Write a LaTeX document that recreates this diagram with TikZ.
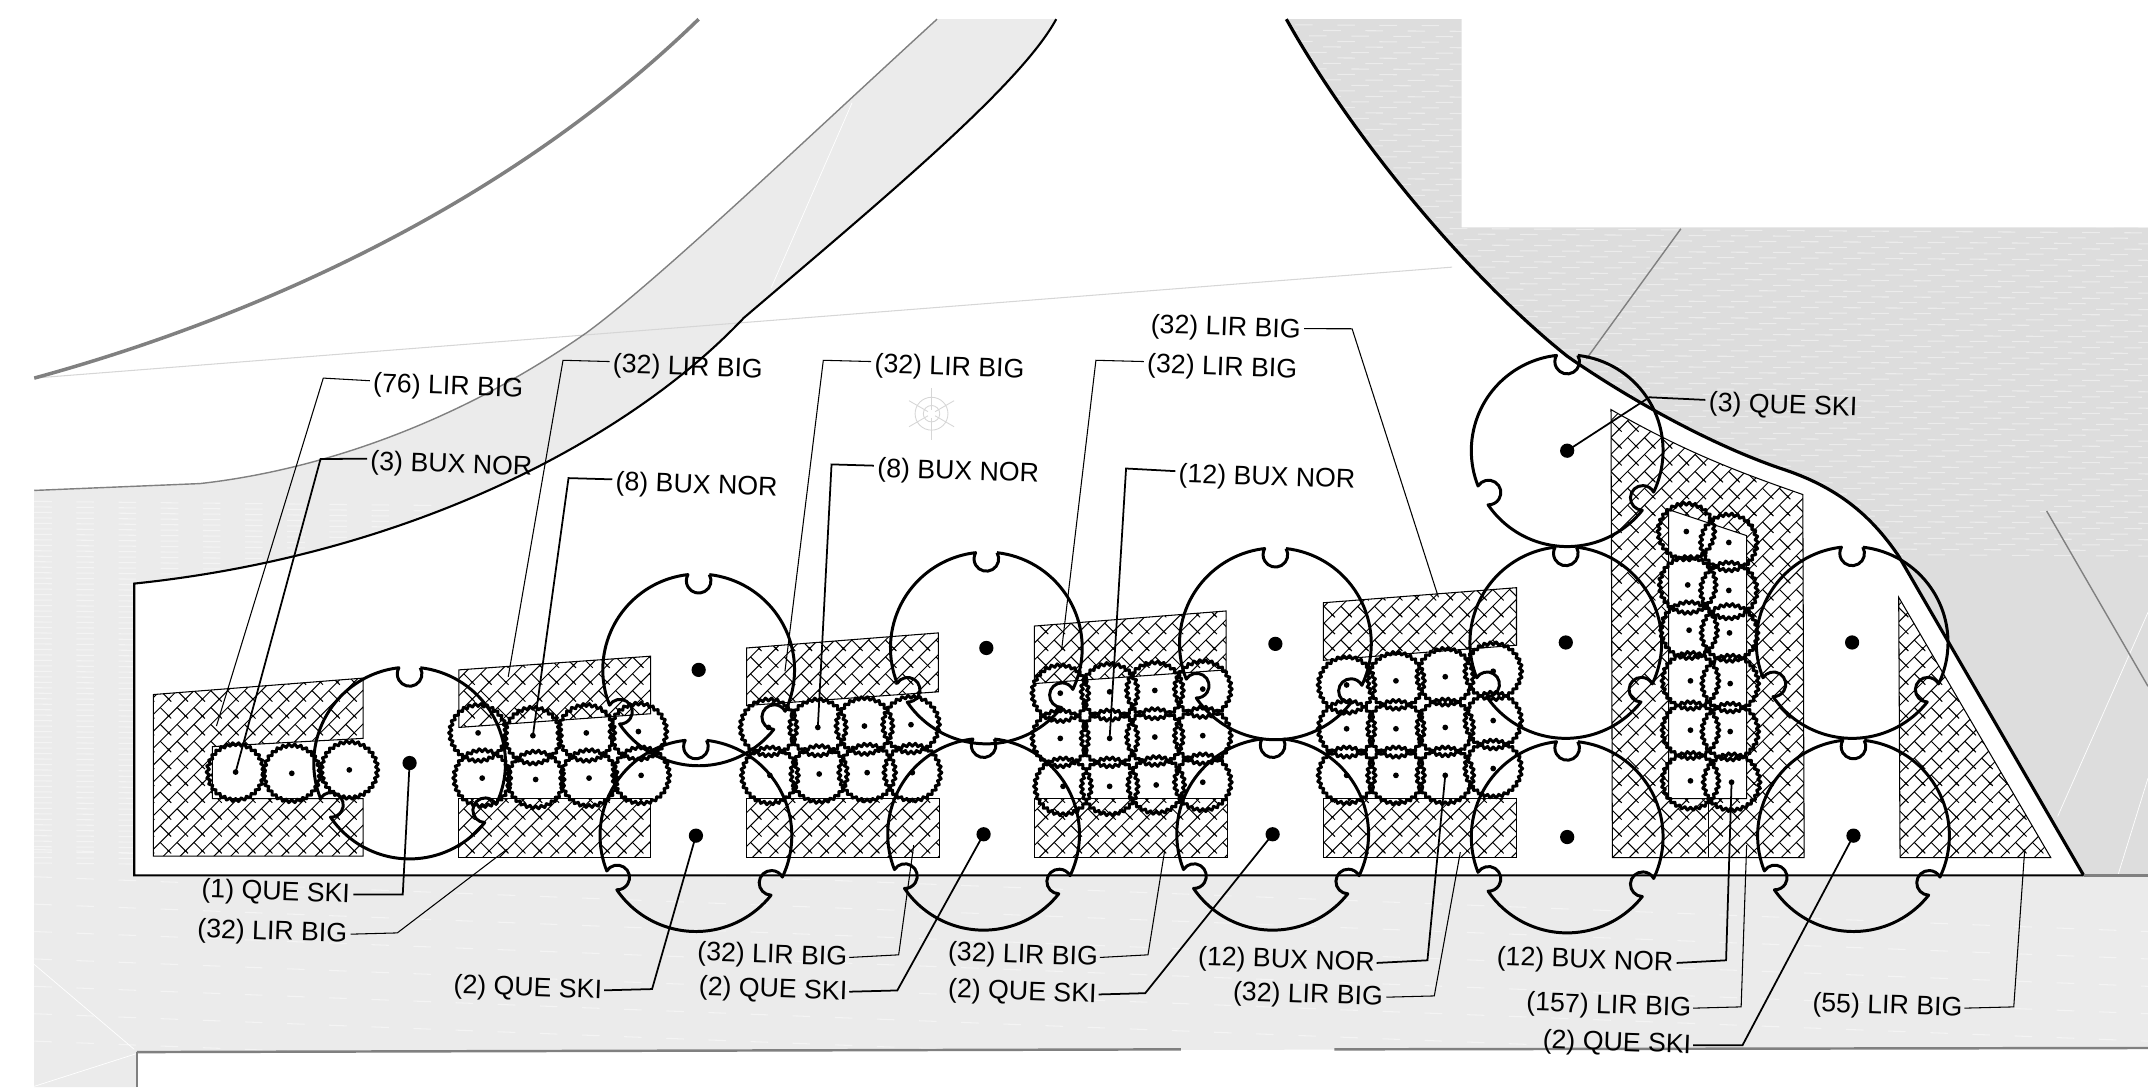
\documentclass[tikz,border=0pt]{standalone}
\usepackage{fontspec}
\setmainfont{Liberation Sans}
\usetikzlibrary{patterns,calc}
\definecolor{pavelight}{RGB}{235,235,235}
\definecolor{pavedark}{RGB}{221,221,221}
\definecolor{edgegray}{RGB}{128,128,128}
\definecolor{faintgray}{RGB}{214,214,214}
\pgfdeclarepatternformonly{plantbed}{\pgfqpoint{-0.2pt}{-0.2pt}}{\pgfqpoint{9.8pt}{9.8pt}}{\pgfqpoint{9.6pt}{9.6pt}}{
  \pgfsetlinewidth{0.28pt}
  \pgfpathmoveto{\pgfqpoint{-0.2pt}{-0.2pt}}\pgfpathlineto{\pgfqpoint{9.8pt}{9.8pt}}
  \pgfpathmoveto{\pgfqpoint{-0.2pt}{4.6pt}}\pgfpathlineto{\pgfqpoint{5pt}{9.8pt}}
  \pgfpathmoveto{\pgfqpoint{4.6pt}{-0.2pt}}\pgfpathlineto{\pgfqpoint{9.8pt}{5pt}}
  \pgfusepath{stroke}
  % staggered cross strokes, each with a short overhang
  \foreach \dx in {-9.6,0,9.6,19.2} {
    \foreach \dy in {-9.6,0,9.6} {
      \pgfpathmoveto{\pgfpoint{\dx pt+0.72pt}{\dy pt-0.72pt}}\pgfpathlineto{\pgfpoint{\dx pt-2.4pt}{\dy pt+2.4pt}}
      \pgfpathmoveto{\pgfpoint{\dx pt+0.72pt}{\dy pt+4.08pt}}\pgfpathlineto{\pgfpoint{\dx pt-2.4pt}{\dy pt+7.2pt}}
      \pgfpathmoveto{\pgfpoint{\dx pt-4.08pt}{\dy pt+4.08pt}}\pgfpathlineto{\pgfpoint{\dx pt-7.2pt}{\dy pt+7.2pt}}
      \pgfpathmoveto{\pgfpoint{\dx pt-4.08pt}{\dy pt+8.88pt}}\pgfpathlineto{\pgfpoint{\dx pt-7.2pt}{\dy pt+12pt}}
      \pgfusepath{stroke}
    }
  }
}
\tikzset{
  bedline/.style={line width=0.3pt, draw=black, pattern=plantbed},
  treeline/.style={line width=0.85pt, line join=round},
  shrubline/.style={line width=0.85pt, line join=round},
  leader/.style={line width=0.5pt},
  leader-thin/.style={line width=0.3pt},
  streak/.style={draw=white, line width=0.3pt, opacity=0.45, dash pattern=on 5pt off 7pt},
  whiteline/.style={draw=white, line width=0.2pt},
  plantlabel/.style={font=\fontsize{7.6}{9}\selectfont, inner sep=0pt, rotate=-2, yshift=-0.75pt}
}
% tree with three notches, drawn in a y-up local frame
\newcommand{\treeplant}[3]{
  \coordinate (#1) at (#2,#3);
  \begin{scope}[shift={(#1)},y=0.0137cm]
    \draw[treeline] (83.6:70) arc[start angle=30, delta angle=-240, radius=9]
      arc[start angle=96.4, end angle=201.6, radius=70]
      arc[start angle=148, delta angle=-240, radius=9]
      arc[start angle=214.4, end angle=321.6, radius=70]
      arc[start angle=268, delta angle=-240, radius=9]
      arc[start angle=334.4, end angle=443.6, radius=70];
    \fill (0,0) circle (5.2);
  \end{scope}
}
\newcommand{\shrubplant}[3]{
  \coordinate (#1) at (#2,#3);
  \begin{scope}[shift={(#1)}]
    \draw[shrubline] plot[domain=0:360, samples=121, variable=\t]
      ({(20.4+1.1*cos(30*\t))*cos(\t)},{(20.4+1.1*cos(30*\t))*sin(\t)}) -- cycle;
    \fill (0,0) circle (2.1);
  \end{scope}
}
\def\bandupper{(146,353) .. controls (235,343) and (335,308) .. (428,243) .. controls (480,205) and (590,100) .. (684,14)}
\def\bandlower{(771,14) .. controls (745,62) and (645,145) .. (543,232) .. controls (460,320) and (300,405) .. (98,426)}
\def\rightedge{(939,14) .. controls (990,105) and (1075,205) .. (1144,260) .. controls (1190,292) and (1250,325) .. (1300,342) .. controls (1340,355) and (1365,375) .. (1386,406) -- (1521,639)}
\def\lightband{(25,358) -- \bandupper -- \bandlower -- (98,639) -- (1568,639) -- (1568,765) -- (100,768) -- (100,793.5) -- (25,793.5) -- cycle}
\def\darkzone{\rightedge -- (1568,639) -- (1568,166) -- (1067,166) -- (1067,14) -- cycle}

\begin{document}
\begin{tikzpicture}[x=0.0137cm,y=-0.0137cm]
  \useasboundingbox (0,0) rectangle (1568,793.5);

  % --- Paving ---
  \fill[pavelight] \lightband;
  \fill[pavedark] \darkzone;
  \begin{scope}
    \clip \lightband;
    \foreach \yy in {366,370,...,630} {
      \draw[streak] (25,\yy) -- (420,\yy+4);
    }
    \foreach \yy in {620,640,...,770} {
      \draw[streak] (25,\yy) -- (1568,\yy+60);
    }
  \end{scope}
  \begin{scope}
    \clip \darkzone;
    \foreach \yy in {18,22,...,404} {
      \draw[streak, dash phase=\yy pt] (930,\yy) -- (1568,\yy+4);
    }
  \end{scope}
  \draw[whiteline] (1568,447) -- (1502,596);
  \draw[whiteline] (1568,568) -- (1546,639);
  \draw[whiteline] (622,75) -- (563,210);
  \draw[whiteline] (25,704) -- (98,766);
  \draw[whiteline] (25,793) -- (100,769);

  % --- Site edges ---
  \draw[faintgray, line width=0.3pt] (25,276) -- (1060,195);
  \draw[edgegray, line width=1pt] (25,276) .. controls (175,235) and (365,155) .. (510,14);
  \draw[edgegray, line width=0.4pt] (25,358) -- \bandupper;
  \draw[line width=0.6pt] \bandlower -- (98,639) -- (1521,639);
  \draw[line width=0.9pt] \rightedge;
  \draw[edgegray, line width=0.8pt] (1521,639) -- (1568,639);
  \draw[edgegray, line width=0.7pt] (100,768) -- (862,766);
  \draw[edgegray, line width=0.7pt] (974,766) -- (1568,765);
  \draw[edgegray, line width=0.3pt] (100,768) -- (100,793.5);
  \draw[edgegray, line width=0.4pt] (1227,167) -- (1158,262);
  \draw[edgegray, line width=0.4pt] (1494,373) -- (1568,501);

  % faint symbol
  \begin{scope}[shift={(680,302)}, faintgray, line width=0.25pt]
    \draw (0,0) circle (6);
    \draw (0,0) circle (12);
    \foreach \a in {90,150,210,270,330,30} {
      \draw (\a:3) -- (\a:19);
    }
  \end{scope}

  % --- Planting beds ---
  \draw[bedline] (112,507) -- (265,495) -- (265,539) -- (155,545) -- (155,583) -- (265,583) -- (265,625) -- (112,625) -- cycle;
  \draw[bedline] (335,489) -- (475,479) -- (475,521) -- (335,531) -- cycle;
  \draw[bedline] (335,583) rectangle (475,626);
  \draw[bedline] (545,473) -- (685,462) -- (685,505) -- (545,515) -- cycle;
  \draw[bedline] (545,583) rectangle (686,626);
  \draw[bedline] (755,457) -- (895,446) -- (895,489) -- (755,499) -- cycle;
  \draw[bedline] (755,583) rectangle (896,626);
  \draw[bedline] (966,440) -- (1107,429) -- (1107,471) -- (966,482) -- cycle;
  \draw[bedline] (966,583) rectangle (1107,626);
  \draw[bedline, even odd rule] (1176,299) .. controls (1230,330) and (1270,345) .. (1316,361) -- (1317,626) -- (1177,626) -- cycle
    (1218,372) -- (1275,391) -- (1275,583) -- (1218,583) -- cycle;
  \draw[line width=0.3pt] (1247,583) -- (1247,626);
  \draw[bedline] (1386,436) -- (1497,626) -- (1387,626) -- cycle;

  % --- Trees ---
  \foreach \nm/\cx/\cy in {treeA/299/557,treeB/510/489,treeC/508/610,treeD/720/473,treeE/718/609,treeF/931/470,
      treeG/929/609,treeH/1144/329,treeI/1143/469,treeJ/1144/611,treeK/1352/469,treeL/1353/610} {
    \treeplant{\nm}{\cx}{\cy}
  }

  % --- Shrubs ---
  \foreach \nm/\cx/\cy in {busA/172/563.6,busB/213/564.5,busC/255/562,
      busD/349/535,busE/389/537,busF/428/535,busG/466/534,busH/352/568,busI/391/569,busJ/430/568,busK/468/566,
      busL/561/531,busM/597/531,busN/631/530,busO/665/529,busP/562/566,busQ/598/565,busR/633/564,busS/666/564,
      busT/774/506,busU/810/505,busV/843/504,busW/878/503,busX/774/539,busY/810/539,busZ/843/538,busAA/878/537,
      busAB/776/574,busAC/810/574,busAD/844/573,busAE/878/571,
      busAF/983/500,busAG/1019/497,busAH/1055/494,busAI/1090/490,busAJ/983/532,busAK/1019/532,busAL/1055/531,busAM/1090/526,
      busAN/983/566,busAO/1019/566,busAP/1055/566,busAQ/1090/561,
      busAR/1231/388,busAS/1232/427,busAT/1233/460,busAU/1234/497,busAV/1234/533,busAW/1234/570,
      busAX/1262/396,busAY/1262/431,busAZ/1262.5/462,busBA/1263/499,busBB/1263/534,busBC/1264/571} {
    \shrubplant{\nm}{\cx}{\cy}
  }

  % --- Labels ---
  \node[plantlabel, anchor=west] (labA) at (272,279) {(76) LIR BIG};
  \node[plantlabel, anchor=west] (labB) at (270,336) {(3) BUX NOR};
  \node[plantlabel, anchor=west] (labC) at (447,265) {(32) LIR BIG};
  \node[plantlabel, anchor=west] (labD) at (449,351) {(8) BUX NOR};
  \node[plantlabel, anchor=west] (labE) at (638,265) {(32) LIR BIG};
  \node[plantlabel, anchor=west] (labF) at (640,341) {(8) BUX NOR};
  \node[plantlabel, anchor=west] (labG) at (837,265) {(32) LIR BIG};
  \node[plantlabel, anchor=west] (labH) at (860,345) {(12) BUX NOR};
  \node[plantlabel, anchor=east] (labI) at (950,240) {(32) LIR BIG};
  \node[plantlabel, anchor=west] (labJ) at (1247,293) {(3) QUE SKI};
  \node[plantlabel, anchor=east] (labK) at (256,652) {(1) QUE SKI};
  \node[plantlabel, anchor=east] (labL) at (254,681) {(32) LIR BIG};
  \node[plantlabel, anchor=east] (labM) at (440,722) {(2) QUE SKI};
  \node[plantlabel, anchor=east] (labN) at (619,698) {(32) LIR BIG};
  \node[plantlabel, anchor=east] (labO) at (619,723) {(2) QUE SKI};
  \node[plantlabel, anchor=east] (labP) at (802,698) {(32) LIR BIG};
  \node[plantlabel, anchor=east] (labQ) at (801,725) {(2) QUE SKI};
  \node[plantlabel, anchor=east] (labR) at (1004,702) {(12) BUX NOR};
  \node[plantlabel, anchor=east] (labS) at (1010,727) {(32) LIR BIG};
  \node[plantlabel, anchor=east] (labT) at (1222,702) {(12) BUX NOR};
  \node[plantlabel, anchor=east] (labU) at (1235,735) {(157) LIR BIG};
  \node[plantlabel, anchor=east] (labV) at (1235,762) {(2) QUE SKI};
  \node[plantlabel, anchor=east] (labW) at (1433,735) {(55) LIR BIG};

  % free ends in the hatched beds
  \coordinate (bedA) at (158,530);
  \coordinate (bedB) at (371,494);
  \coordinate (bedC) at (573,490);
  \coordinate (bedD) at (775,474);
  \coordinate (bedE) at (1050,436);
  \coordinate (bedF) at (370,620);
  \coordinate (bedG) at (667,617);
  \coordinate (bedH) at (850,622);
  \coordinate (bedI) at (1066,622);
  \coordinate (bedJ) at (1275,617);
  \coordinate (bedK) at (1478,620);

  % --- Leaders ---
  \draw[leader-thin] (labA.west) ++(-2,-3) -- (236,276) -- (bedA);
  \draw[leader] (labB.west) ++(-2,-3) -- (234,335) -- (busA);
  \draw[leader-thin] (labC.west) ++(-2,-3) -- (411,263) -- (bedB);
  \draw[leader] (labD.west) ++(-2,-3) -- (415,349) -- (busE);
  \draw[leader-thin] (labE.west) ++(-2,-3) -- (601,263) -- (bedC);
  \draw[leader] (labF.west) ++(-2,-3) -- (607,339) -- (busM);
  \draw[leader-thin] (labG.west) ++(-2,-3) -- (800,263) -- (bedD);
  \draw[leader] (labH.west) ++(-2,-3) -- (822,342) -- (busY);
  \draw[leader-thin] (labI.east) ++(2,-2) -- (987,240) -- (bedE);
  \draw[leader] (labJ.west) ++(-2,-3) -- (1204,290) -- (treeH);
  \draw[leader] (labK.east) ++(2,-1) -- (294,653) -- (treeA);
  \draw[leader-thin] (labL.east) ++(2,-1) -- (290,681) -- (bedF);
  \draw[leader] (labM.east) ++(1,-1) -- (476,722) -- (treeC);
  \draw[leader-thin] (labN.east) ++(1,-1) -- (656,697) -- (bedG);
  \draw[leader] (labO.east) ++(1,-1) -- (655,723) -- (treeE);
  \draw[leader-thin] (labP.east) ++(1,-1) -- (838,697) -- (bedH);
  \draw[leader] (labQ.east) ++(1,-1) -- (836,725) -- (treeG);
  \draw[leader] (labR.east) ++(1,-1) -- (1042,701) -- (busAP);
  \draw[leader-thin] (labS.east) ++(2,-1) -- (1047,727) -- (bedI);
  \draw[leader] (labT.east) ++(2,-1) -- (1260,701) -- (busBC);
  \draw[leader-thin] (labU.east) ++(1,-1) -- (1271,735) -- (bedJ);
  \draw[leader] (labV.east) ++(1,-1) -- (1272,763) -- (treeL);
  \draw[leader-thin] (labW.east) ++(1,-1) -- (1470,735) -- (bedK);
\end{tikzpicture}
\end{document}
